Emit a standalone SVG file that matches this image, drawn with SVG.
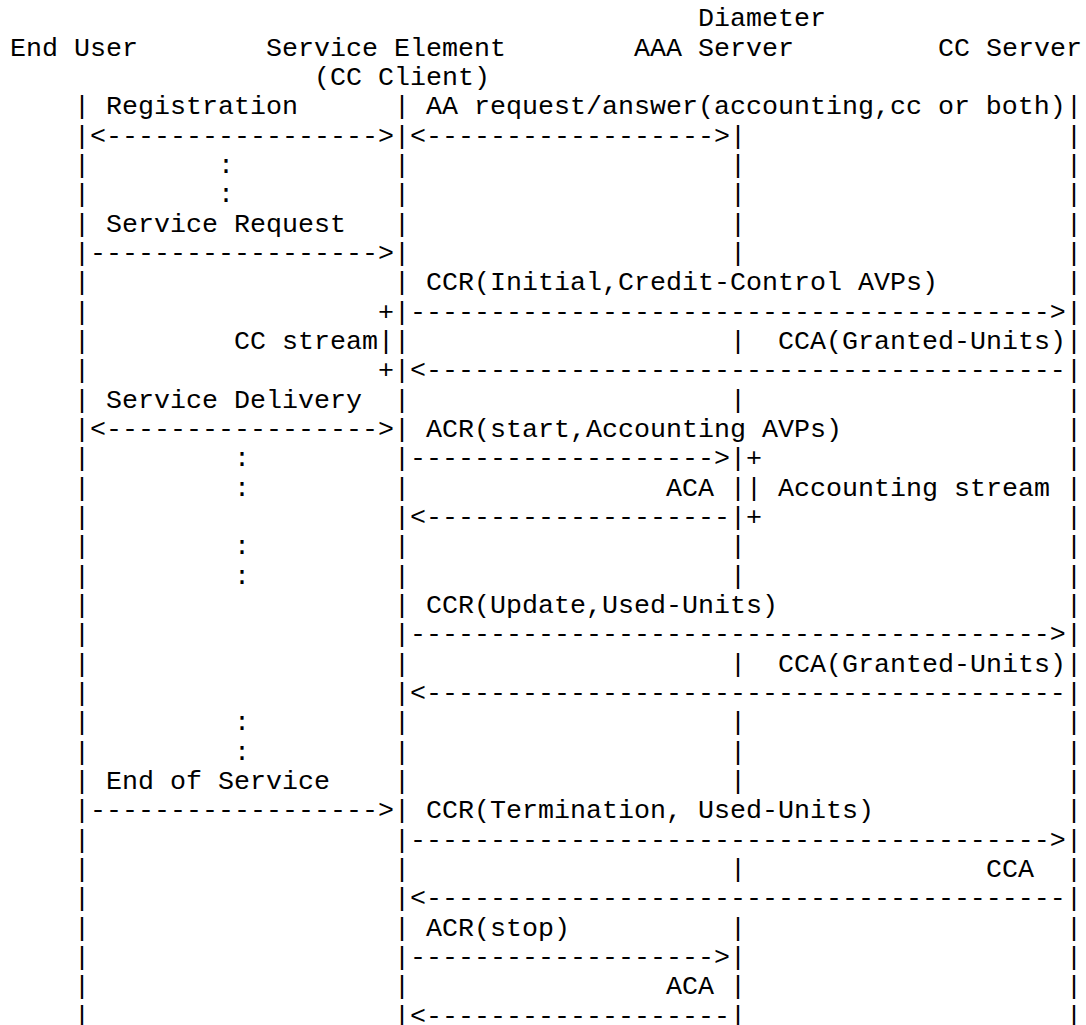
<svg xmlns="http://www.w3.org/2000/svg" width="1086" height="1025" viewBox="0 0 1086 1025" xml:space="preserve">
<style>
.t{font-family:"Courier New","Liberation Mono",monospace;font-size:26.667px;fill:#000}
</style>
<rect width="1086" height="1025" fill="#fff"/>
<g id="end-user"><text class="t" x="10" y="55.63">End User</text></g>
<g id="service-element"><text class="t" x="266" y="55.63">Service Element</text><text class="t" x="314" y="84.97">(CC Client)</text></g>
<g id="aaa-server"><text class="t" x="698" y="26.3">Diameter</text><text class="t" x="634" y="55.63">AAA Server</text></g>
<g id="cc-server"><text class="t" x="938" y="55.63">CC Server</text></g>
<g id="lifelines">
<text class="t" id="life-end-user"><tspan x="74" y="114.3">|</tspan><tspan x="74" y="143.63">|</tspan><tspan x="74" y="172.97">|</tspan><tspan x="74" y="202.3">|</tspan><tspan x="74" y="231.63">|</tspan><tspan x="74" y="260.97">|</tspan><tspan x="74" y="290.3">|</tspan><tspan x="74" y="319.63">|</tspan><tspan x="74" y="348.97">|</tspan><tspan x="74" y="378.3">|</tspan><tspan x="74" y="407.63">|</tspan><tspan x="74" y="436.97">|</tspan><tspan x="74" y="466.3">|</tspan><tspan x="74" y="495.63">|</tspan><tspan x="74" y="524.97">|</tspan><tspan x="74" y="554.3">|</tspan><tspan x="74" y="583.63">|</tspan><tspan x="74" y="612.97">|</tspan><tspan x="74" y="642.3">|</tspan><tspan x="74" y="671.63">|</tspan><tspan x="74" y="700.97">|</tspan><tspan x="74" y="730.3">|</tspan><tspan x="74" y="759.63">|</tspan><tspan x="74" y="788.97">|</tspan><tspan x="74" y="818.3">|</tspan><tspan x="74" y="847.63">|</tspan><tspan x="74" y="876.97">|</tspan><tspan x="74" y="906.3">|</tspan><tspan x="74" y="935.63">|</tspan><tspan x="74" y="964.97">|</tspan><tspan x="74" y="994.3">|</tspan><tspan x="74" y="1023.63">|</tspan></text>
<text class="t" id="life-service-element"><tspan x="394" y="114.3">|</tspan><tspan x="394" y="143.63">|</tspan><tspan x="394" y="172.97">|</tspan><tspan x="394" y="202.3">|</tspan><tspan x="394" y="231.63">|</tspan><tspan x="394" y="260.97">|</tspan><tspan x="394" y="290.3">|</tspan><tspan x="394" y="319.63">|</tspan><tspan x="394" y="348.97">|</tspan><tspan x="394" y="378.3">|</tspan><tspan x="394" y="407.63">|</tspan><tspan x="394" y="436.97">|</tspan><tspan x="394" y="466.3">|</tspan><tspan x="394" y="495.63">|</tspan><tspan x="394" y="524.97">|</tspan><tspan x="394" y="554.3">|</tspan><tspan x="394" y="583.63">|</tspan><tspan x="394" y="612.97">|</tspan><tspan x="394" y="642.3">|</tspan><tspan x="394" y="671.63">|</tspan><tspan x="394" y="700.97">|</tspan><tspan x="394" y="730.3">|</tspan><tspan x="394" y="759.63">|</tspan><tspan x="394" y="788.97">|</tspan><tspan x="394" y="818.3">|</tspan><tspan x="394" y="847.63">|</tspan><tspan x="394" y="876.97">|</tspan><tspan x="394" y="906.3">|</tspan><tspan x="394" y="935.63">|</tspan><tspan x="394" y="964.97">|</tspan><tspan x="394" y="994.3">|</tspan><tspan x="394" y="1023.63">|</tspan></text>
<text class="t" id="life-aaa-server"><tspan x="730" y="143.63">|</tspan><tspan x="730" y="172.97">|</tspan><tspan x="730" y="202.3">|</tspan><tspan x="730" y="231.63">|</tspan><tspan x="730" y="260.97">|</tspan><tspan x="730" y="348.97">|</tspan><tspan x="730" y="407.63">|</tspan><tspan x="730" y="466.3">|</tspan><tspan x="730" y="495.63">|</tspan><tspan x="730" y="524.97">|</tspan><tspan x="730" y="554.3">|</tspan><tspan x="730" y="583.63">|</tspan><tspan x="730" y="671.63">|</tspan><tspan x="730" y="730.3">|</tspan><tspan x="730" y="759.63">|</tspan><tspan x="730" y="788.97">|</tspan><tspan x="730" y="876.97">|</tspan><tspan x="730" y="935.63">|</tspan><tspan x="730" y="964.97">|</tspan><tspan x="730" y="994.3">|</tspan><tspan x="730" y="1023.63">|</tspan></text>
<text class="t" id="life-cc-server"><tspan x="1066" y="114.3">|</tspan><tspan x="1066" y="143.63">|</tspan><tspan x="1066" y="172.97">|</tspan><tspan x="1066" y="202.3">|</tspan><tspan x="1066" y="231.63">|</tspan><tspan x="1066" y="260.97">|</tspan><tspan x="1066" y="290.3">|</tspan><tspan x="1066" y="319.63">|</tspan><tspan x="1066" y="348.97">|</tspan><tspan x="1066" y="378.3">|</tspan><tspan x="1066" y="407.63">|</tspan><tspan x="1066" y="436.97">|</tspan><tspan x="1066" y="466.3">|</tspan><tspan x="1066" y="495.63">|</tspan><tspan x="1066" y="524.97">|</tspan><tspan x="1066" y="554.3">|</tspan><tspan x="1066" y="583.63">|</tspan><tspan x="1066" y="612.97">|</tspan><tspan x="1066" y="642.3">|</tspan><tspan x="1066" y="671.63">|</tspan><tspan x="1066" y="700.97">|</tspan><tspan x="1066" y="730.3">|</tspan><tspan x="1066" y="759.63">|</tspan><tspan x="1066" y="788.97">|</tspan><tspan x="1066" y="818.3">|</tspan><tspan x="1066" y="847.63">|</tspan><tspan x="1066" y="876.97">|</tspan><tspan x="1066" y="906.3">|</tspan><tspan x="1066" y="935.63">|</tspan><tspan x="1066" y="964.97">|</tspan><tspan x="1066" y="994.3">|</tspan><tspan x="1066" y="1023.63">|</tspan></text>
</g>
<g id="connectors">
<text class="t" x="106" y="114.3">Registration</text>
<text class="t" x="426" y="114.3">AA request/answer(accounting,cc or both)</text>
<text class="t" x="90" y="143.63">&lt;-----------------&gt;</text>
<text class="t" x="410" y="143.63">&lt;------------------&gt;</text>
<text class="t" x="218" y="172.97">:</text>
<text class="t" x="218" y="202.3">:</text>
<text class="t" x="106" y="231.63">Service Request</text>
<text class="t" x="90" y="260.97">------------------&gt;</text>
<text class="t" x="426" y="290.3">CCR(Initial,Credit-Control AVPs)</text>
<text class="t" x="410" y="319.63">----------------------------------------&gt;</text>
<text class="t" x="778" y="348.97">CCA(Granted-Units)</text>
<text class="t" x="410" y="378.3">&lt;----------------------------------------</text>
<text class="t" x="106" y="407.63">Service Delivery</text>
<text class="t" x="90" y="436.97">&lt;-----------------&gt;</text>
<text class="t" x="426" y="436.97">ACR(start,Accounting AVPs)</text>
<text class="t" x="234" y="466.3">:</text>
<text class="t" x="410" y="466.3">-------------------&gt;</text>
<text class="t" x="234" y="495.63">:</text>
<text class="t" x="666" y="495.63">ACA</text>
<text class="t" x="410" y="524.97">&lt;-------------------</text>
<text class="t" x="234" y="554.3">:</text>
<text class="t" x="234" y="583.63">:</text>
<text class="t" x="426" y="612.97">CCR(Update,Used-Units)</text>
<text class="t" x="410" y="642.3">----------------------------------------&gt;</text>
<text class="t" x="778" y="671.63">CCA(Granted-Units)</text>
<text class="t" x="410" y="700.97">&lt;----------------------------------------</text>
<text class="t" x="234" y="730.3">:</text>
<text class="t" x="234" y="759.63">:</text>
<text class="t" x="106" y="788.97">End of Service</text>
<text class="t" x="90" y="818.3">------------------&gt;</text>
<text class="t" x="426" y="818.3">CCR(Termination, Used-Units)</text>
<text class="t" x="410" y="847.63">----------------------------------------&gt;</text>
<text class="t" x="986" y="876.97">CCA</text>
<text class="t" x="410" y="906.3">&lt;----------------------------------------</text>
<text class="t" x="426" y="935.63">ACR(stop)</text>
<text class="t" x="410" y="964.97">-------------------&gt;</text>
<text class="t" x="666" y="994.3">ACA</text>
<text class="t" x="410" y="1023.63">&lt;-------------------</text>
</g>
<g id="cc-stream">
<text class="t" x="378" y="319.63">+</text>
<text class="t" x="234" y="348.97">CC stream|</text>
<text class="t" x="378" y="378.3">+</text>
</g>
<g id="accounting-stream">
<text class="t" x="746" y="466.3">+</text>
<text class="t" x="746" y="495.63">|</text>
<text class="t" x="778" y="495.63">Accounting stream</text>
<text class="t" x="746" y="524.97">+</text>
</g>
</svg>
